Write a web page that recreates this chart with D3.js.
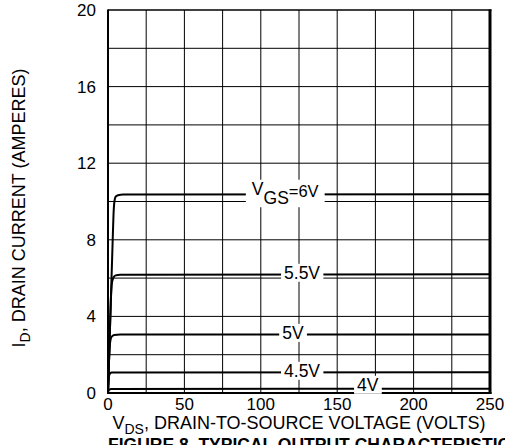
<!DOCTYPE html>
<html>
<head>
<meta charset="utf-8">
<title>Typical Output Characteristics</title>
<script src="https://d3js.org/d3.v7.min.js"></script>
<style>
  body { margin: 0; background: #fff; }
  svg { display: block; }
  text { font-family: "Liberation Sans", Arial, Helvetica, sans-serif; fill: #000; }
</style>
</head>
<body>
<script>
// data: VDS (volts) vs ID (amperes), one array pair per VGS curve
var vds6 = [0, 1, 2, 3, 3.6, 4.2, 5, 6.5, 10, 250];
var id6 = [0, 2.6, 5.2, 7.8, 9.3, 10.0, 10.25, 10.33, 10.36, 10.38];
var vds55 = [0, 1, 1.9, 2.5, 3.5, 5, 8, 250];
var id55 = [0, 2.6, 4.9, 5.7, 6.02, 6.14, 6.18, 6.2];
var vds5 = [0, 0.6, 1, 1.6, 2.5, 4, 8, 250];
var id5 = [0, 1.5, 2.3, 2.75, 2.95, 3.03, 3.06, 3.06];
var vds45 = [0, 0.3, 0.7, 1.3, 2.5, 250];
var id45 = [0, 0.6, 0.9, 1.02, 1.07, 1.08];
var vds4 = [0, 0.3, 0.8, 2, 250];
var id4 = [0, 0.12, 0.18, 0.21, 0.22];

var curveNames = ["6V", "5.5V", "5V", "4.5V", "4V"];
var labelAt = [116, 127, 121, 127, 170];   // VDS where each label sits

var xTicks = [0, 50, 100, 150, 200, 250];
var yTicks = [0, 4, 8, 12, 16, 20];

var W = 505, H = 445;
var pLeft = 108, pRight = 490, pTop = 10, pBottom = 393;

var svg = d3.select("body").append("svg")
  .attr("width", W)
  .attr("height", H);

var x = d3.scaleLinear().domain([0, 250]).range([pLeft, pRight]);
var y = d3.scaleLinear().domain([0, 20]).range([pBottom, pTop]);

// grid, every 25 V and 2 A
var g = svg.append("g");
g.selectAll("line.vx")
  .data(d3.range(25, 250, 25))
  .enter().append("line")
  .attr("x1", function(d) { return x(d); })
  .attr("x2", function(d) { return x(d); })
  .attr("y1", pTop).attr("y2", pBottom)
  .attr("stroke", "#000").attr("stroke-width", 1);
g.selectAll("line.hy")
  .data(d3.range(2, 20, 2))
  .enter().append("line")
  .attr("x1", pLeft).attr("x2", pRight)
  .attr("y1", function(d) { return y(d); })
  .attr("y2", function(d) { return y(d); })
  .attr("stroke", "#000").attr("stroke-width", 1);

// curves
var series = [
  d3.zip(vds6, id6),
  d3.zip(vds55, id55),
  d3.zip(vds5, id5),
  d3.zip(vds45, id45),
  d3.zip(vds4, id4)
];
var line = d3.line()
  .x(function(d) { return x(d[0]); })
  .y(function(d) { return y(d[1]); })
  .curve(d3.curveMonotoneX);

svg.append("g").selectAll("path")
  .data(series)
  .enter().append("path")
  .attr("d", line)
  .attr("fill", "none")
  .attr("stroke", "#000")
  .attr("stroke-width", 2);

// frame
svg.append("line").attr("x1", pLeft).attr("x2", pLeft).attr("y1", pTop - 0.5).attr("y2", pBottom + 1)
  .attr("stroke", "#000").attr("stroke-width", 2);
svg.append("line").attr("x1", pLeft).attr("x2", pRight + 1.5).attr("y1", pBottom).attr("y2", pBottom)
  .attr("stroke", "#000").attr("stroke-width", 2);
svg.append("line").attr("x1", pLeft).attr("x2", pRight + 1.5).attr("y1", pTop).attr("y2", pTop)
  .attr("stroke", "#000").attr("stroke-width", 1.5);
svg.append("line").attr("x1", pRight).attr("x2", pRight).attr("y1", pTop - 0.5).attr("y2", pBottom + 1)
  .attr("stroke", "#000").attr("stroke-width", 3);

// curve labels with white boxes cutting the lines
var lab = svg.append("g");
curveNames.forEach(function(name, i) {
  var cy = y(series[i][series[i].length - 1][1]);
  var cx = x(labelAt[i]);
  var t = lab.append("text").attr("text-anchor", "middle").attr("font-size", 17.5);
  if (i == 0) {
    t.attr("x", cx).attr("y", cy + 0.5);
    t.append("tspan").text("V");
    t.append("tspan").attr("dy", 9.5).text("GS");
    t.append("tspan").attr("dy", -7).attr("font-size", 16.5).text("=" + name);
  } else if (i == 4) {
    t.attr("x", cx).attr("y", cy + 2).text(name);
  } else {
    t.attr("x", cx).attr("y", cy + 4.5).text(name);
  }
  var b = t.node().getBBox();
  var pad = i == 0 ? 6 : 3;
  lab.insert("rect", function() { return t.node(); })
    .attr("x", b.x - pad).attr("y", b.y + 1)
    .attr("width", b.width + 2 * pad).attr("height", b.height - 2)
    .attr("fill", "#fff");
});

// tick labels
svg.append("g").selectAll("text")
  .data(xTicks)
  .enter().append("text")
  .attr("x", function(d) { return x(d); })
  .attr("y", 410)
  .attr("text-anchor", "middle")
  .attr("font-size", 17)
  .text(function(d) { return d; });

svg.append("g").selectAll("text")
  .data(yTicks)
  .enter().append("text")
  .attr("x", 96)
  .attr("y", function(d) { return y(d); })
  .attr("dy", "0.35em")
  .attr("text-anchor", "end")
  .attr("font-size", 17)
  .text(function(d) { return d; });

// axis titles
var xt = svg.append("text")
  .attr("x", 299).attr("y", 429)
  .attr("text-anchor", "middle")
  .attr("font-size", 18);
xt.append("tspan").text("V");
xt.append("tspan").attr("dy", 5).attr("font-size", 14).text("DS");
xt.append("tspan").attr("dy", -5).text(", DRAIN-TO-SOURCE VOLTAGE (VOLTS)");

var yt = svg.append("text")
  .attr("transform", "translate(25,208) rotate(-90)")
  .attr("text-anchor", "middle")
  .attr("font-size", 18);
yt.append("tspan").text("I");
yt.append("tspan").attr("dy", 5).attr("font-size", 14).text("D");
yt.append("tspan").attr("dy", -5).text(", DRAIN CURRENT (AMPERES)");

// caption, cut by the bottom edge
svg.append("text")
  .attr("x", 108).attr("y", 451)
  .attr("font-size", 17.5)
  .attr("font-weight", "bold")
  .text("FIGURE 8. TYPICAL OUTPUT CHARACTERISTICS");
</script>
</body>
</html>
